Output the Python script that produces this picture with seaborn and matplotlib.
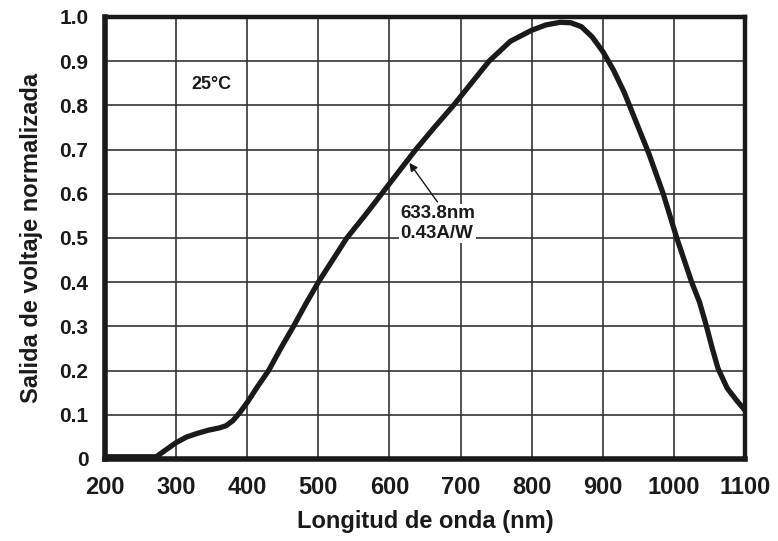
import numpy as np
import pandas as pd
import seaborn as sns
import matplotlib.pyplot as plt

# curva de respuesta espectral
wavelength = [200, 272, 285, 300, 315, 330, 345, 360, 370, 380, 390, 400, 415,
              430, 447, 465, 482, 500, 520, 540, 565, 589, 613, 637, 663, 690,
              715, 740, 770, 800, 820, 840, 855, 870, 885, 900, 915, 930, 950,
              965, 985, 1004, 1025, 1036, 1045, 1054, 1062, 1075, 1088, 1100]
voltage = [0.005, 0.005, 0.02, 0.037, 0.05, 0.058, 0.065, 0.07, 0.075, 0.087,
           0.106, 0.128, 0.165, 0.2, 0.25, 0.3, 0.35, 0.4, 0.45, 0.5, 0.55, 0.6,
           0.65, 0.7, 0.75, 0.8, 0.85, 0.9, 0.945, 0.97, 0.982, 0.988, 0.987,
           0.978, 0.955, 0.922, 0.88, 0.83, 0.75, 0.69, 0.6, 0.5, 0.4, 0.355,
           0.305, 0.25, 0.205, 0.16, 0.133, 0.11]

x_ticks = list(range(200, 1101, 100))
y_ticks = [0, 0.1, 0.2, 0.3, 0.4, 0.5, 0.6, 0.7, 0.8, 0.9, 1.0]
y_labels = ['0', '0.1', '0.2', '0.3', '0.4', '0.5', '0.6', '0.7', '0.8', '0.9', '1.0']

marker_point = (628, 0.67)
marker_text = "633.8nm\n0.43A/W"

df = pd.DataFrame({'wl': wavelength, 'v': voltage})

sns.set_style('white')
plt.rcParams['font.family'] = ['Liberation Sans', 'DejaVu Sans']

fig = plt.figure(figsize=(7.78, 5.41), dpi=100)
ax = fig.add_axes([0.135, 0.1516, 0.8226, 0.817])

sns.lineplot(data=df, x='wl', y='v', ax=ax, color='#1a1a1a', linewidth=3.8,
             solid_capstyle='butt', solid_joinstyle='round', zorder=3)

ax.set_xlim(200, 1100)
ax.set_ylim(0, 1.0)
ax.set_xticks(x_ticks)
ax.set_xticklabels([str(t) for t in x_ticks], fontsize=17, fontweight='bold')
ax.set_yticks(y_ticks)
ax.set_yticklabels(y_labels, fontsize=15, fontweight='bold')
ax.tick_params(axis='both', length=0, colors='#1a1a1a')
ax.tick_params(axis='x', pad=12)
ax.tick_params(axis='y', pad=12)

ax.grid(True, color='#333333', linewidth=1.2)
ax.set_axisbelow(True)

for side in ['left', 'bottom']:
    ax.spines[side].set_linewidth(4.0)
for side in ['top', 'right']:
    ax.spines[side].set_linewidth(3.2)
for s in ax.spines.values():
    s.set_color('#1a1a1a')
    s.set_zorder(4)

ax.set_xlabel('Longitud de onda (nm)', fontsize=17, fontweight='bold',
              color='#1a1a1a', labelpad=8)
ax.set_ylabel('Salida de voltaje normalizada', fontsize=17, fontweight='bold',
              color='#1a1a1a', labelpad=12)

ax.text(349, 0.848, '25°C', fontsize=13, fontweight='bold', ha='center',
        va='center', color='#1a1a1a')

ax.annotate(marker_text, xy=marker_point, xytext=(615, 0.532),
            fontsize=13.5, fontweight='bold', color='#1a1a1a', ha='left',
            va='center', linespacing=1.25,
            bbox=dict(boxstyle='square,pad=0.05', fc='white', ec='none'),
            arrowprops=dict(arrowstyle='-|>', color='#1a1a1a', lw=1.0,
                            mutation_scale=12, shrinkA=2, shrinkB=0,
                            relpos=(0.53, 1.0)),
            zorder=5)

fig.savefig('out.png', dpi=100)
